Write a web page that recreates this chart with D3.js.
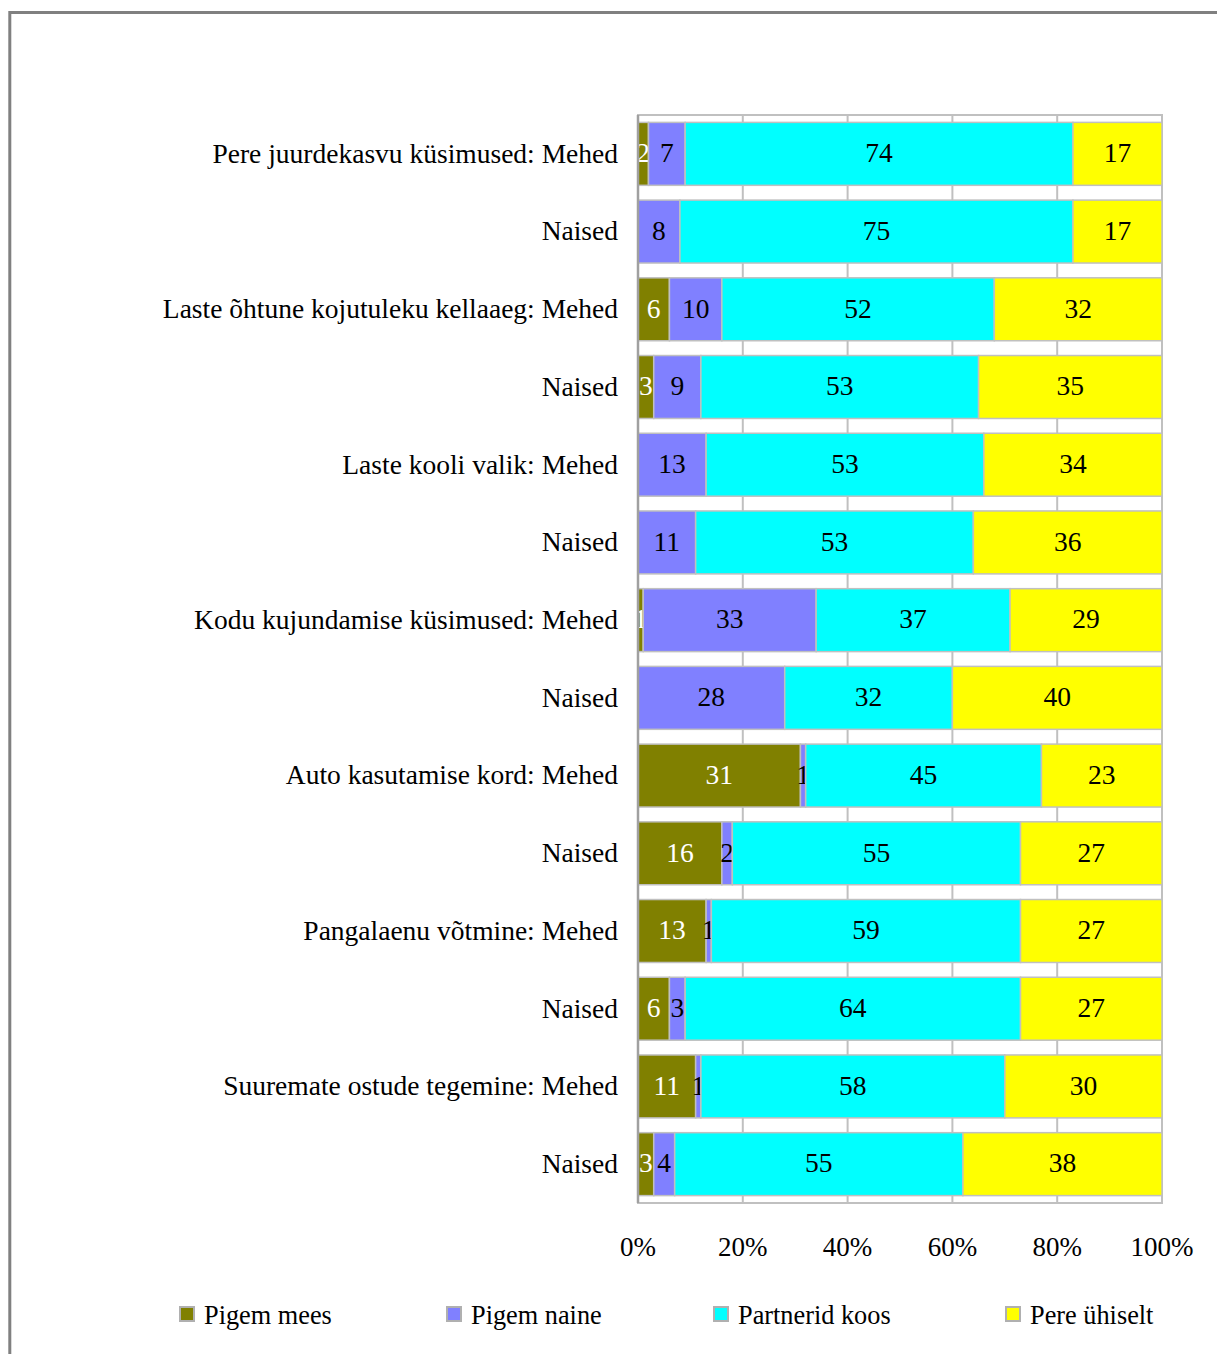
<!DOCTYPE html>
<html><head><meta charset="utf-8">
<script src="https://cdn.jsdelivr.net/npm/d3@7"></script>
<style>body{margin:0;background:#fff}svg{display:block}text{font-family:"Liberation Serif","Times New Roman",serif}</style>
</head><body>
<svg id="c" width="1217" height="1354"></svg>
<script>
const categories = ["Pere juurdekasvu küsimused: Mehed","Naised","Laste õhtune kojutuleku kellaaeg: Mehed","Naised","Laste kooli valik: Mehed","Naised","Kodu kujundamise küsimused: Mehed","Naised","Auto kasutamise kord: Mehed","Naised","Pangalaenu võtmine: Mehed","Naised","Suuremate ostude tegemine: Mehed","Naised"];
const seriesNames = ["Pigem mees","Pigem naine","Partnerid koos","Pere ühiselt"];
const pigemMees = [2,0,6,3,0,0,1,0,31,16,13,6,11,3];
const pigemNaine = [7,8,10,9,13,11,33,28,1,2,1,3,1,4];
const partneridKoos = [74,75,52,53,53,53,37,32,45,55,59,64,58,55];
const pereUhiselt = [17,17,32,35,34,36,29,40,23,27,27,27,30,38];
const tickLabels = ["0%","20%","40%","60%","80%","100%"];
const colors = ["#808000","#8080ff","#00ffff","#ffff00"];
const labelColors = ["#ffffff","#000000","#000000","#000000"];

const svg = d3.select("#c");
// outer frame
svg.append("rect").attr("x",9.8).attr("y",12.5).attr("width",1300).attr("height",1400)
  .attr("fill","none").attr("stroke","#808080").attr("stroke-width",3);

const L=638, R=1162, T=115, B=1203;
const x = d3.scaleLinear().domain([0,1]).range([L,R]);
const y = d3.scaleBand().domain(d3.range(categories.length)).range([T,B]).paddingInner(0.19).paddingOuter(0.095);

const allSeries=[pigemMees,pigemNaine,partneridKoos,pereUhiselt];
const rows = categories.map((c,i)=>{const o={i};seriesNames.forEach((s,k)=>o[s]=allSeries[k][i]);return o;});
const stack = d3.stack().keys(seriesNames).offset(d3.stackOffsetExpand);
const stacked = stack(rows);

// plot frame and gridlines
const g = svg.append("g");
g.append("rect").attr("x",L).attr("y",T).attr("width",R-L).attr("height",B-T)
 .attr("fill","none").attr("stroke","#c0c0c0").attr("stroke-width",2);
g.selectAll("line.grid").data(d3.range(0.2,1.01,0.2)).join("line").attr("class","grid")
 .attr("x1",d=>x(d)).attr("x2",d=>x(d)).attr("y1",T).attr("y2",B)
 .attr("stroke","#c0c0c0").attr("stroke-width",2);

stacked.forEach((s,k)=>{
  const gg = svg.append("g");
  gg.selectAll("rect").data(s).join("rect")
    .attr("x",d=>x(d[0])).attr("width",d=>Math.max(0,x(d[1])-x(d[0])))
    .attr("y",d=>y(d.data.i)).attr("height",y.bandwidth())
    .attr("fill",colors[k]).attr("stroke",d=>d[1]-d[0]>0?"#c0c0c0":"none").attr("stroke-width",1.5);
  gg.selectAll("text").data(s.filter(d=>d.data[seriesNames[k]]>0)).join("text")
    .attr("x",d=>(x(d[0])+x(d[1]))/2).attr("y",d=>y(d.data.i)+y.bandwidth()/2)
    .attr("dy","0.3em").attr("text-anchor","middle").attr("font-size",27.5)
    .attr("fill",labelColors[k]).text(d=>d.data[seriesNames[k]]);
});

// left axis line
svg.append("line").attr("x1",L).attr("x2",L).attr("y1",T).attr("y2",B).attr("stroke","#a0a0a0").attr("stroke-width",2.5);

// category labels
svg.append("g").selectAll("text").data(categories).join("text")
  .attr("x",L-20).attr("y",(d,i)=>y(i)+y.bandwidth()/2).attr("dy","0.32em")
  .attr("text-anchor","end").attr("font-size",27.5).attr("fill","#000").text(d=>d);

// x tick labels
svg.append("g").selectAll("text").data(tickLabels).join("text")
  .attr("x",(d,i)=>x(i/5)).attr("y",1256).attr("text-anchor","middle")
  .attr("font-size",27).attr("fill","#000").text(d=>d);

// legend
const legX=[180,447,714,1006];
const lg = svg.append("g");
seriesNames.forEach((n,k)=>{
  lg.append("rect").attr("x",legX[k]).attr("y",1307).attr("width",14).attr("height",14)
    .attr("fill",colors[k]).attr("stroke","#b0b0b0").attr("stroke-width",2);
  lg.append("text").attr("x",legX[k]+24).attr("y",1324).attr("font-size",26.3).attr("fill","#000").text(n);
});
</script>
</body></html>
